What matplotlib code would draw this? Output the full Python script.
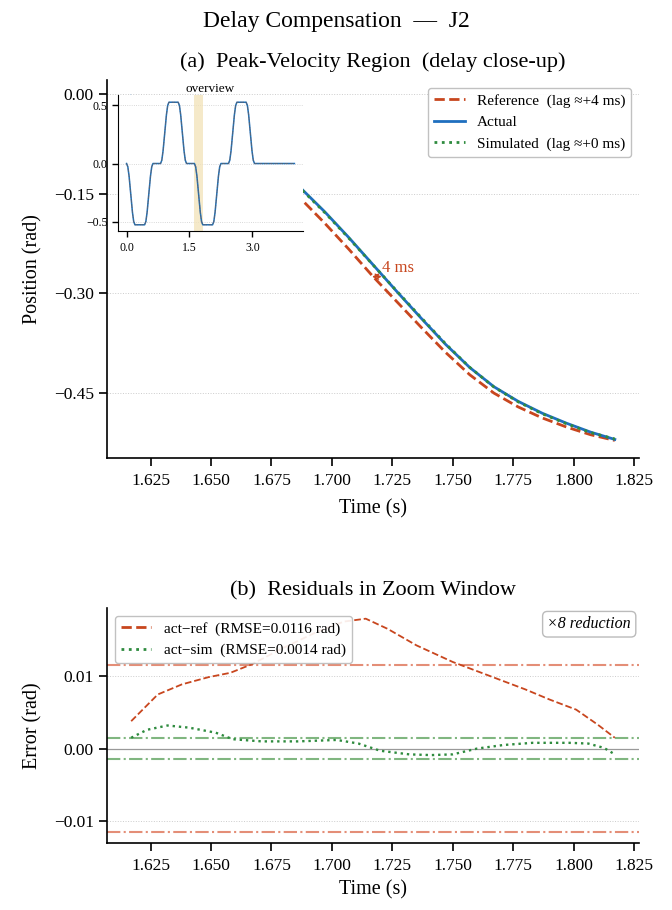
import matplotlib
matplotlib.use("Agg")
import matplotlib.pyplot as plt
import numpy as np

plt.rcParams['font.family'] = ['Liberation Serif', 'DejaVu Serif']

# ---------------- data ----------------
t_zoom = [1.617, 1.627, 1.637, 1.647, 1.657, 1.667, 1.677, 1.687, 1.697, 1.707,
          1.717, 1.727, 1.737, 1.747, 1.757, 1.767, 1.777, 1.787, 1.797, 1.807, 1.817]
pos_actual = [-0.003, -0.008, -0.018, -0.033, -0.053, -0.078, -0.107, -0.141, -0.177, -0.216,
              -0.257, -0.298, -0.338, -0.377, -0.412, -0.441, -0.463, -0.481, -0.496, -0.5095, -0.5205]
pos_reference = [-0.0067, -0.0152, -0.0267, -0.0427, -0.0635, -0.0897, -0.1206, -0.157, -0.1942, -0.2336,
                 -0.2748, -0.3133, -0.3517, -0.3892, -0.4229, -0.4506, -0.4714, -0.4881, -0.5018, -0.5134, -0.522]
pos_simulated = [-0.0045, -0.011, -0.0211, -0.0355, -0.0545, -0.079, -0.108, -0.142, -0.1781, -0.217,
                 -0.2572, -0.2974, -0.3371, -0.3762, -0.4118, -0.4414, -0.4637, -0.4818, -0.4968, -0.5102, -0.5198]

t_res_ref = [1.617, 1.628, 1.638, 1.649, 1.658, 1.667, 1.679, 1.694, 1.705, 1.714,
             1.723, 1.735, 1.750, 1.765, 1.780, 1.790, 1.801, 1.810, 1.817]
err_ref = [0.0038, 0.0075, 0.0089, 0.0099, 0.0105, 0.0117, 0.0138, 0.0162, 0.0176, 0.0180,
           0.0166, 0.0143, 0.0120, 0.0101, 0.0082, 0.0068, 0.0054, 0.0033, 0.0015]

t_res_sim = [1.617, 1.6235, 1.632, 1.641, 1.652, 1.659, 1.671, 1.686, 1.702, 1.711, 1.720,
             1.732, 1.741, 1.750, 1.760, 1.771, 1.783, 1.798, 1.806, 1.8125, 1.817]
err_sim = [0.0015, 0.0026, 0.0032, 0.0029, 0.0022, 0.0013, 0.0010, 0.0010, 0.0012, 0.0007, -0.0003,
           -0.0008, -0.0009, -0.0008, 0.0000, 0.0005, 0.0008, 0.0008, 0.0007, 0.0001, -0.0008]

rmse_ref = 0.0116
rmse_sim = 0.0014
reduction = 8
lag_ref_ms = 4
lag_sim_ms = 0

# overview trajectory (inset)
ov_t = [0.00, 0.03, 0.06, 0.10, 0.14, 0.17, 0.20,
        0.43, 0.46, 0.49, 0.53, 0.57, 0.60, 0.63,
        0.81, 0.84, 0.87, 0.91, 0.95, 0.98, 1.01,
        1.23, 1.26, 1.29, 1.33, 1.37, 1.40, 1.43,
        1.617, 1.647, 1.677, 1.717, 1.757, 1.787, 1.817,
        2.05, 2.08, 2.11, 2.15, 2.19, 2.22, 2.25,
        2.43, 2.46, 2.49, 2.53, 2.57, 2.60, 2.63,
        2.85, 2.88, 2.91, 2.95, 2.99, 3.02, 3.05,
        4.00]
ov_p = [0.000, -0.028, -0.108, -0.262, -0.417, -0.497, -0.525,
        -0.525, -0.497, -0.417, -0.262, -0.108, -0.028, 0.000,
        0.000, 0.028, 0.108, 0.262, 0.417, 0.497, 0.525,
        0.525, 0.497, 0.417, 0.262, 0.108, 0.028, 0.000,
        0.000, -0.028, -0.108, -0.262, -0.417, -0.497, -0.525,
        -0.525, -0.497, -0.417, -0.262, -0.108, -0.028, 0.000,
        0.000, 0.028, 0.108, 0.262, 0.417, 0.497, 0.525,
        0.525, 0.497, 0.417, 0.262, 0.108, 0.028, 0.000,
        0.000]
zoom_window = (1.617, 1.817)

pos_yticks = [0.00, -0.15, -0.30, -0.45]
err_yticks = [0.01, 0.00, -0.01]
x_ticks = [1.625, 1.650, 1.675, 1.700, 1.725, 1.750, 1.775, 1.800, 1.825]

# ---------------- style ----------------
C_REF = '#C8461E'
C_ACT = '#1F6FBF'
C_SIM = '#2E8B3E'
C_REF_L = '#E07A5F'
C_SIM_L = '#6AAA6A'

fig = plt.figure(figsize=(6.72, 9.10), dpi=100)
fig.suptitle('Delay Compensation  —  J2', fontsize=17, y=0.988)

W, H = 672, 910
def rect(x0, y0, x1, y1):
    return [x0 / W, 1 - y1 / H, (x1 - x0) / W, (y1 - y0) / H]

ax1 = fig.add_axes(rect(107, 80, 639, 458))
ax2 = fig.add_axes(rect(107, 608, 639, 843))

for ax in (ax1, ax2):
    ax.spines['top'].set_visible(False)
    ax.spines['right'].set_visible(False)
    ax.spines['left'].set_linewidth(1.2)
    ax.spines['bottom'].set_linewidth(1.2)
    ax.tick_params(axis='both', labelsize=12.5, width=1.2, length=6)
    ax.tick_params(axis='x', pad=5)
    ax.yaxis.grid(True, linestyle=':', color='#cccccc', linewidth=0.7)
    ax.set_axisbelow(True)
    ax.set_xticks(x_ticks)
    ax.set_xticklabels([f'{v:.3f}' for v in x_ticks])
    ax.set_xlim(1.607, 1.827)

# ---- panel (a) ----
ax1.plot(t_zoom, pos_reference, '--', color=C_REF, lw=2.0,
         label=f'Reference  (lag ≈+{lag_ref_ms} ms)')
ax1.plot(t_zoom, pos_actual, '-', color=C_ACT, lw=2.0, label='Actual')
ax1.plot(t_zoom, pos_simulated, ':', color=C_SIM, lw=2.0,
         label=f'Simulated  (lag ≈+{lag_sim_ms} ms)')
ax1.set_ylim(-0.5485, 0.0216)
ax1.set_yticks(pos_yticks)
ax1.set_yticklabels(['0.00', '−0.15', '−0.30', '−0.45'])
ax1.set_xlabel('Time (s)', fontsize=14.5, labelpad=7)
ax1.set_ylabel('Position (rad)', fontsize=14.5, labelpad=8)
ax1.set_title('(a)  Peak-Velocity Region  (delay close-up)', fontsize=16, pad=9)
ax1.legend(loc='upper right', fontsize=11, framealpha=0.9, edgecolor='#bbbbbb',
           handlelength=2.0)

# delay arrow
y_arr = -0.275
ax1.annotate('', xy=(1.7166, y_arr), xytext=(1.7206, y_arr),
             arrowprops=dict(arrowstyle='<->', color=C_REF, lw=1.0,
                             shrinkA=0, shrinkB=0, mutation_scale=9))
ax1.text(1.7206, y_arr + 0.001, f'{lag_ref_ms} ms', color=C_REF, fontsize=12,
         ha='left', va='bottom')

# inset overview
axi = ax1.inset_axes([0.021, 0.600, 0.347, 0.360])
axi.axvspan(zoom_window[0], zoom_window[1], color='#F2E2B8', alpha=0.75, lw=0)
axi.plot(ov_t, ov_p, '-', color=C_ACT, lw=1.1)
axi.plot(ov_t, ov_p, '--', color=C_REF, lw=0.7, alpha=0.35)
axi.plot(ov_t, ov_p, ':', color=C_SIM, lw=0.7, alpha=0.35)
axi.set_xticks([0.0, 1.5, 3.0])
axi.set_xticklabels(['0.0', '1.5', '3.0'])
axi.set_yticks([-0.5, 0.0, 0.5])
axi.set_yticklabels(['−0.5', '0.0', '0.5'])
axi.tick_params(labelsize=8.5, width=1.0, length=4)
axi.spines['top'].set_visible(False)
axi.spines['right'].set_visible(False)
axi.yaxis.grid(True, linestyle=':', color='#cccccc', linewidth=0.6)
axi.set_axisbelow(True)
axi.set_xlim(-0.2, 4.2)
axi.set_ylim(-0.58, 0.586)
axi.set_title('overview', fontsize=9.5, pad=2)

# ---- panel (b) ----
ax2.plot(t_res_ref, err_ref, '--', color=C_REF, lw=1.3,
         label=f'act−ref  (RMSE={rmse_ref:.4f} rad)')
ax2.plot(t_res_sim, err_sim, ':', color=C_SIM, lw=1.7,
         label=f'act−sim  (RMSE={rmse_sim:.4f} rad)')
ax2.axhline(0.0, color='#999999', lw=0.9, zorder=1)
for s in (1, -1):
    ax2.axhline(s * rmse_ref, color=C_REF_L, lw=1.5, ls='-.', alpha=0.85, zorder=1)
    ax2.axhline(s * rmse_sim, color=C_SIM_L, lw=1.5, ls='-.', alpha=0.85, zorder=1)
ax2.set_yticks(err_yticks)
ax2.set_yticklabels(['0.01', '0.00', '−0.01'])
ax2.set_xlabel('Time (s)', fontsize=14.5, labelpad=4)
ax2.set_ylabel('Error (rad)', fontsize=14.5, labelpad=8)
ax2.set_title('(b)  Residuals in Zoom Window', fontsize=16, pad=9)
leg2 = ax2.legend(loc='upper left', fontsize=11, framealpha=0.9, edgecolor='#bbbbbb',
                  handlelength=2.0)
for h in leg2.get_lines():
    h.set_linewidth(2.0)
ax2.text(0.985, 0.965, f'×{reduction} reduction', transform=ax2.transAxes,
         ha='right', va='top', fontsize=11.5, style='italic',
         bbox=dict(boxstyle='round,pad=0.3', fc='white', ec='#bbbbbb', lw=1.0))

fig.savefig('out.png', dpi=100)
